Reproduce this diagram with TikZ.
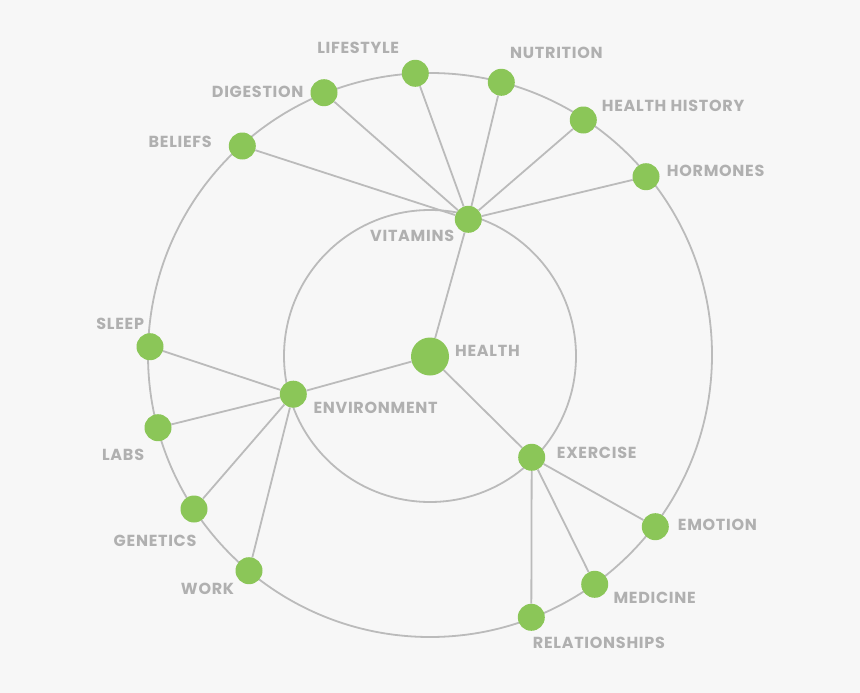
\documentclass[tikz,border=0pt]{standalone}
\usepackage{fontspec}
\setmainfont{Poppins}[LetterSpace=4.5]
\definecolor{bgc}{RGB}{247,247,247}
\definecolor{grn}{RGB}{139,198,88}
\definecolor{lin}{RGB}{187,187,187}
\definecolor{txt}{RGB}{176,176,176}
\tikzset{
  ring/.style={draw=lin, line width=1.8pt},
  link/.style={draw=lin, line width=1.8pt},
  dot/.style={circle, fill=grn, minimum size=27pt, inner sep=0pt},
  bigdot/.style={circle, fill=grn, minimum size=38pt, inner sep=0pt},
  lbl/.style={text=txt, font=\fontsize{16}{17}\selectfont\bfseries, inner sep=0pt}
}
\begin{document}
\begin{tikzpicture}[x=1pt,y=-1pt]
\path[fill=bgc, use as bounding box] (0,0) rectangle (860,693);
\draw[ring] (430,355) circle (282);
\draw[ring] (430,356) circle (146);
% nodes
\node[bigdot] (health) at (430,356.5) {};
\node[dot] (vit) at (468.3,219.3) {};
\node[dot] (env) at (293.3,394.2) {};
\node[dot] (exe) at (531.7,457.3) {};
\node[dot] (life) at (415.3,73.3) {};
\node[dot] (nut) at (501.3,82.3) {};
\node[dot] (dig) at (324,92.7) {};
\node[dot] (bel) at (242.3,146) {};
\node[dot] (hh) at (583.3,120) {};
\node[dot] (hor) at (646,176.7) {};
\node[dot] (sle) at (150,346.7) {};
\node[dot] (lab) at (158,427.7) {};
\node[dot] (gen) at (194,509) {};
\node[dot] (wor) at (249,570.7) {};
\node[dot] (emo) at (655.3,526.7) {};
\node[dot] (med) at (594.7,584.3) {};
\node[dot] (rel) at (531.3,617.3) {};
% links
\path[link] (vit) -- (health) (vit) -- (bel) (vit) -- (dig) (vit) -- (life) (vit) -- (nut) (vit) -- (hh) (vit) -- (hor);
\path[link] (env) -- (health) (env) -- (sle) (env) -- (lab) (env) -- (gen) (env) -- (wor);
\path[link] (exe) -- (health) (exe) -- (emo) (exe) -- (med) (exe) -- (rel);
% labels
\node[lbl, anchor=west] (lhealth) at (455,351) {HEALTH};
\node[lbl, anchor=west] (lvit) at (370,236) {VITAMINS};
\node[lbl, anchor=west] (lenv) at (313.3,408.3) {ENVIRONMENT};
\node[lbl, anchor=west] (lexe) at (556.7,453.3) {EXERCISE};
\node[lbl, anchor=west] (lemo) at (677.7,525) {EMOTION};
\node[lbl, anchor=west] (lmed) at (613.3,598.3) {MEDICINE};
\node[lbl, anchor=west] (lrel) at (532.7,642.7) {RELATIONSHIPS};
\node[lbl, anchor=east] (lgen) at (196.7,541) {GENETICS};
\node[lbl, anchor=east] (lwor) at (234.3,589.3) {WORK};
\node[lbl, anchor=east] (llab) at (144.3,455) {LABS};
\node[lbl, anchor=east] (lsle) at (144.3,324.3) {SLEEP};
\node[lbl, anchor=east] (lbel) at (212,141.7) {BELIEFS};
\node[lbl, anchor=east] (ldig) at (303.7,92.3) {DIGESTION};
\node[lbl, anchor=east] (llife) at (399.3,48.3) {LIFESTYLE};
\node[lbl, anchor=west] (lnut) at (510,53) {NUTRITION};
\node[lbl, anchor=west] (lhh) at (601.7,106) {HEALTH HISTORY};
\node[lbl, anchor=west] (lhor) at (666.7,171) {HORMONES};
\end{tikzpicture}
\end{document}
